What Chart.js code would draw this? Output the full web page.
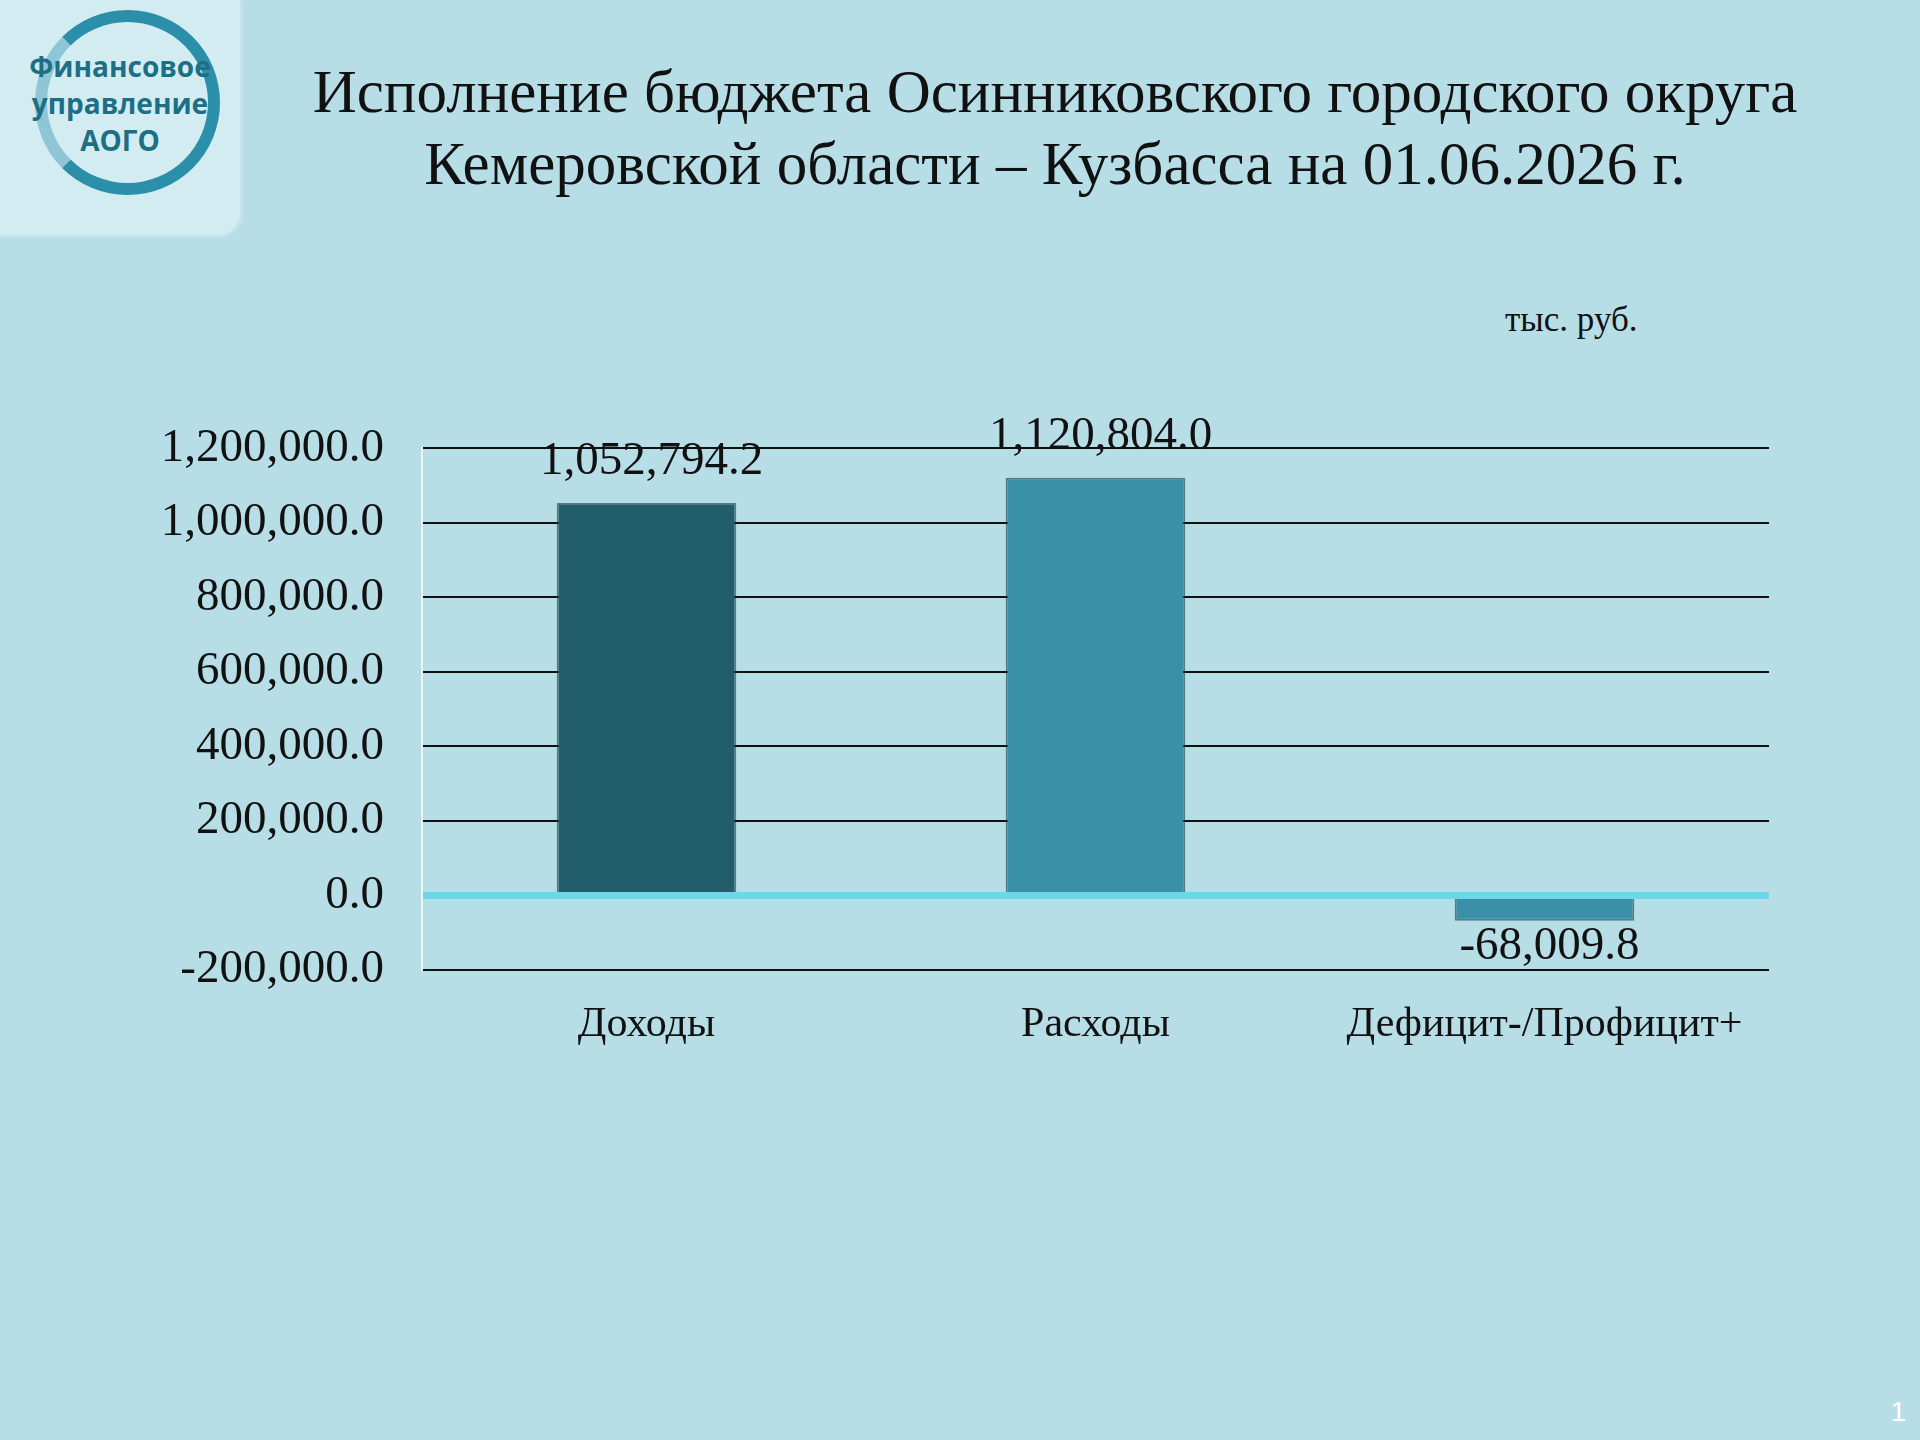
<!DOCTYPE html>
<html><head><meta charset="utf-8">
<script src="https://cdn.jsdelivr.net/npm/chart.js@4.4.1/dist/chart.umd.min.js"></script>
<style>
body{margin:0;width:1920px;height:1440px;background:#b7dde7;position:relative;overflow:hidden;font-family:"Liberation Serif","Times New Roman",serif}
#title{position:absolute;left:290px;width:1530px;top:56px;text-align:center;font-size:61px;line-height:72px;color:#111}
#unit{position:absolute;left:1505px;top:300px;font-size:35px;color:#111}
#logo{position:absolute;left:0;top:0;width:240px;height:235px;border-radius:0 0 22px 0;background:#d3ecf2;box-shadow:0 0 6px rgba(255,255,255,.6)}
#logo .ring{position:absolute;left:35px;top:10px;width:185px;height:185px;border-radius:50%;border:12px solid #2b8fa9;box-sizing:border-box;border-left-color:#8fc6d6}
#logo .txt{position:absolute;left:0;width:240px;top:48px;text-align:center;font-family:"Open Sans",sans-serif;font-weight:bold;font-size:28px;line-height:37px;color:#1d6f86}
#page{position:absolute;right:14px;bottom:12px;font-size:28px;color:#fff;font-family:"Liberation Sans",sans-serif}
#wrap{position:absolute;left:100px;top:382px;width:1700px;height:678px}
</style></head><body>
<div id="logo"><div class="ring"></div><div class="txt">Финансовое<br>управление<br>АОГО</div></div>
<div id="title">Исполнение бюджета Осинниковского городского округа<br>Кемеровской области – Кузбасса на 01.06.2026 г.</div>
<div id="unit">тыс. руб.</div>
<div id="wrap"><canvas id="c"></canvas></div>
<div id="page">1</div>
<script>
const categories = ["Доходы", "Расходы", "Дефицит-/Профицит+"];
const values = [1052794.2, 1120804.0, -68009.8];
const barColors = ["#215d6a", "#3a90a8", "#3a90a8"];
const yMin = -200000, yMax = 1200000, yStep = 200000;

const fmt = v => v.toLocaleString("en-US", {minimumFractionDigits: 1, maximumFractionDigits: 1});

const valueLabels = {
  id: "valueLabels",
  afterDatasetsDraw(chart) {
    const ctx = chart.ctx;
    const meta = chart.getDatasetMeta(0);
    ctx.save();
    ctx.font = "47px 'Liberation Serif', serif";
    ctx.fillStyle = "#111";
    ctx.textAlign = "center";
    meta.data.forEach((bar, i) => {
      const v = values[i];
      if (v >= 0) { ctx.textBaseline = "bottom"; ctx.fillText(fmt(v), bar.x + 5, bar.y - 18); }
      else { ctx.textBaseline = "top"; ctx.fillText(fmt(v), bar.x + 5, bar.y + 2); }
    });
    ctx.restore();
  }
};

new Chart(document.getElementById("c"), {
  type: "bar",
  data: {
    labels: categories,
    datasets: [{ data: values, backgroundColor: barColors, borderColor: "rgba(20,60,70,0.6)", borderWidth: 2, barPercentage: 0.4, categoryPercentage: 1 }]
  },
  options: {
    responsive: true, maintainAspectRatio: false, animation: false,
    layout: { padding: { top: 20, right: 31, bottom: 0, left: 0 } },
    plugins: { legend: { display: false }, tooltip: { enabled: false } },
    scales: {
      x: {
        grid: { display: false },
        border: { display: false },
        ticks: { color: "#111", font: { family: "'Liberation Serif', serif", size: 42 }, padding: 22, maxRotation: 0 },
        afterFit: s => { s.height = 90; }
      },
      y: {
        min: yMin, max: yMax,
        ticks: { stepSize: yStep, color: "#111", font: { family: "'Liberation Serif', serif", size: 47 }, padding: 38, callback: v => fmt(v) },
        grid: {
          color: c => c.tick.value === 0 ? "#6fd6ea" : "#111",
          lineWidth: c => c.tick.value === 0 ? 7 : 2,
          drawTicks: false
        },
        border: { color: "#eaf7fa", width: 2 },
        afterFit: s => { s.width = 322; }
      }
    }
  },
  plugins: [valueLabels]
});
</script>
</body></html>
